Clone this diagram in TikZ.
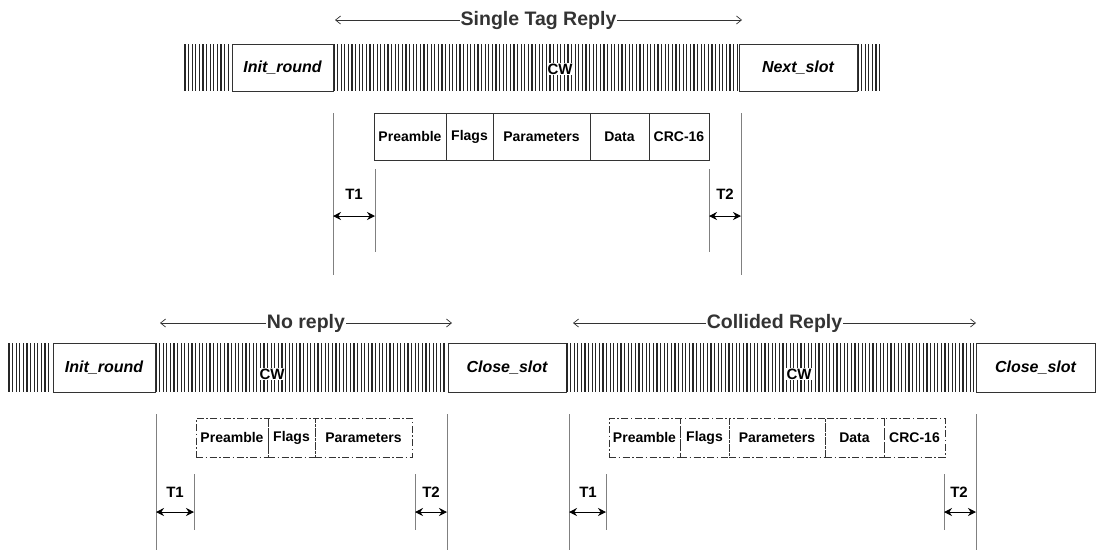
\documentclass[tikz,border=0pt]{standalone}
\usepackage{fontspec}
\setmainfont{Liberation Sans}
\usetikzlibrary{positioning,arrows.meta}

\begin{document}
\begin{tikzpicture}[x=1pt,y=-1pt,
        slotbox/.style={draw=black!80,fill=white,line width=1pt,inner sep=0pt,minimum height=47pt,font=\fontsize{16}{18}\selectfont\bfseries\itshape},
        field/.style={draw=black!80,line width=0.9pt,inner sep=0pt,outer sep=0pt,minimum height=47pt,font=\fontsize{14}{16}\selectfont\bfseries},
        ghost/.style={field,dash pattern=on 7pt off 2.5pt on 1.5pt off 2.5pt,minimum height=39pt},
        hatch/.style={black!85,line width=1.2pt},
        guide/.style={black!50,line width=0.9pt},
        span/.style={black!80,line width=0.7pt,{Straight Barb[length=5pt,width=8pt]}-{Straight Barb[length=5pt,width=8pt]}},
        gap/.style={black,line width=1pt,{Stealth[length=8pt,width=8pt]}-{Stealth[length=8pt,width=8pt]}},
        title/.style={fill=white,inner sep=1pt,font=\fontsize{19.5}{22}\selectfont\bfseries},
        cw/.style={fill=white,inner sep=0.5pt,font=\fontsize{15}{17}\selectfont\bfseries},
        tlabel/.style={font=\fontsize{15}{17}\selectfont\bfseries}]
        \useasboundingbox (0,0) rectangle (1099,550);

        % single tag reply: carrier wave strips
        \foreach \x in {185,188.6,...,231}
        \draw[hatch] (\x,44) -- (\x,91);
        \foreach \x in {334,337.6,...,738}
        \draw[hatch] (\x,44) -- (\x,91);
        \foreach \x in {858,861.6,...,882}
        \draw[hatch] (\x,44) -- (\x,91);
        % reader commands
        \node[slotbox,minimum width=101pt] (init1) at (282.5,67.5) {Init\_round};
        \node[slotbox,minimum width=118pt] (next1) at (798,67.5) {Next\_slot};
        \node[cw] (cw1) at (560,69) {CW};
        % tag reply fields
        \node[field,minimum width=72pt,anchor=west] (pre1) at (374,136.5) {Preamble};
        \node[field,minimum width=47pt,right=0pt of pre1] (flg1) {Flags};
        \node[field,minimum width=97pt,right=0pt of flg1] (par1) {Parameters};
        \node[field,minimum width=59pt,right=0pt of par1] (dat1) {Data};
        \node[field,minimum width=60pt,right=0pt of dat1] (crc1) {CRC-16};
        % timing marks
        \draw[guide] (333,113) -- (333,275);
        \draw[guide] (375,169) -- (375,252);
        \draw[guide] (709,169) -- (709,252);
        \draw[guide] (741,113) -- (741,275);
        \coordinate (t1a) at (333,216);
        \coordinate (t1b) at (375,216);
        \coordinate (t2a) at (709,216);
        \coordinate (t2b) at (741,216);
        \draw[gap] (t1a) -- (t1b);
        \draw[gap] (t2a) -- (t2b);
        \node[tlabel] (lt1) at (354,194) {T1};
        \node[tlabel] (lt2) at (725,194) {T2};
        \coordinate (sL) at (335,20);
        \coordinate (sR) at (742,20);
        \draw[span] (sL) -- (sR) node[title,midway] (single) {Single Tag Reply};

        % no reply: carrier wave strips
        \foreach \x in {9,12.6,...,52}
        \draw[hatch] (\x,343) -- (\x,392);
        \foreach \x in {156,159.6,...,447}
        \draw[hatch] (\x,343) -- (\x,392);
        \node[slotbox,minimum width=102pt,minimum height=49pt] (init2) at (104,367.5) {Init\_round};
        \node[slotbox,minimum width=118pt,minimum height=49pt] (close2) at (507,367.5) {Close\_slot};
        \node[cw] (cw2) at (272,374) {CW};
        \node[ghost,minimum width=72pt,anchor=west] (pre2) at (196,437.5) {Preamble};
        \node[ghost,minimum width=47pt,right=0pt of pre2] (flg2) {Flags};
        \node[ghost,minimum width=97pt,right=0pt of flg2] (par2) {Parameters};
        \draw[guide] (156,414) -- (156,550);
        \draw[guide] (194,474) -- (194,530);
        \draw[guide] (415,474) -- (415,530);
        \draw[guide] (447,414) -- (447,550);
        \coordinate (t3a) at (156,512);
        \coordinate (t3b) at (194,512);
        \coordinate (t4a) at (415,512);
        \coordinate (t4b) at (447,512);
        \draw[gap] (t3a) -- (t3b);
        \draw[gap] (t4a) -- (t4b);
        \node[tlabel] (lt3) at (175,492) {T1};
        \node[tlabel] (lt4) at (431,492) {T2};
        \coordinate (nL) at (160,323);
        \coordinate (nR) at (452,323);
        \draw[span] (nL) -- (nR) node[title,midway] (noreply) {No reply};

        % collided reply: carrier wave strip
        \foreach \x in {567,570.6,...,975}
        \draw[hatch] (\x,343) -- (\x,392);
        \node[slotbox,minimum width=119pt,minimum height=49pt] (close3) at (1035.5,367.5) {Close\_slot};
        \node[cw] (cw3) at (799,374) {CW};
        \node[ghost,minimum width=71pt,anchor=west] (pre3) at (609,437.5) {Preamble};
        \node[ghost,minimum width=49pt,right=0pt of pre3] (flg3) {Flags};
        \node[ghost,minimum width=96pt,right=0pt of flg3] (par3) {Parameters};
        \node[ghost,minimum width=59pt,right=0pt of par3] (dat3) {Data};
        \node[ghost,minimum width=61pt,right=0pt of dat3] (crc3) {CRC-16};
        \draw[guide] (569,414) -- (569,550);
        \draw[guide] (606,474) -- (606,530);
        \draw[guide] (944,474) -- (944,530);
        \draw[guide] (976,414) -- (976,550);
        \coordinate (t5a) at (569,512);
        \coordinate (t5b) at (606,512);
        \coordinate (t6a) at (944,512);
        \coordinate (t6b) at (976,512);
        \draw[gap] (t5a) -- (t5b);
        \draw[gap] (t6a) -- (t6b);
        \node[tlabel] (lt5) at (588,492) {T1};
        \node[tlabel] (lt6) at (959,492) {T2};
        \coordinate (cL) at (573,323);
        \coordinate (cR) at (976,323);
        \draw[span] (cL) -- (cR) node[title,midway] (collided) {Collided Reply};

    \end{tikzpicture}
\end{document}
